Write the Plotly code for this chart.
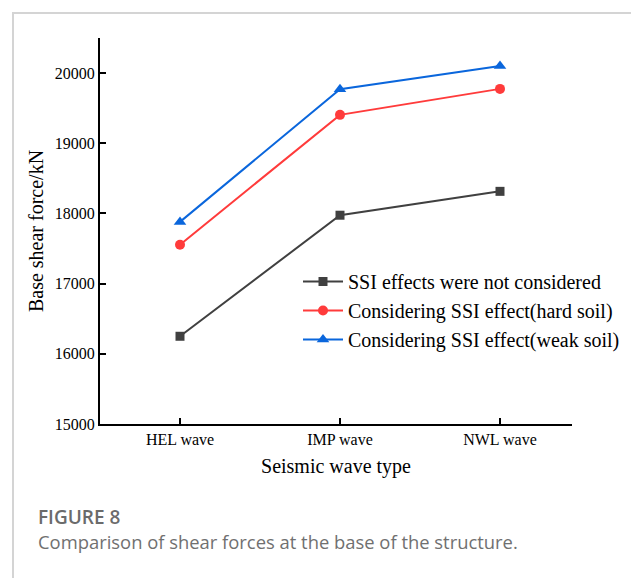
import plotly.graph_objects as go

waves = ["HEL wave", "IMP wave", "NWL wave"]
no_ssi = [16250, 17975, 18315]
hard_soil = [17555, 19405, 19775]
weak_soil = [17880, 19770, 20100]

y_ticks = [15000, 16000, 17000, 18000, 19000, 20000]

# page body adds an 8px margin top/left, so the figure is a bit smaller than the window
OFF = 8
W, H = 639 - OFF, 578 - OFF
L, R, T, B = 100 - OFF, 67, 38 - OFF, 154


def px_x(px):
    return (px - OFF - L) / (W - L - R)


def px_y(py):
    return (H - B - (py - OFF)) / (H - T - B)


fig = go.Figure()

series = [
    ("SSI effects were not considered", no_ssi, "#404040", "square", 9),
    ("Considering SSI effect(hard soil)", hard_soil, "#ff3b3b", "circle", 10),
    ("Considering SSI effect(weak soil)", weak_soil, "#0a66dc", "triangle-up", 11),
]
for name, vals, color, sym, size in series:
    fig.add_trace(go.Scatter(
        x=[0, 1, 2],
        y=vals,
        name=name,
        mode="lines+markers",
        line=dict(color=color, width=2),
        marker=dict(color=color, symbol=sym, size=size),
    ))

fig.update_xaxes(
    tickvals=[0, 1, 2],
    ticktext=waves,
    range=[-0.5, 2.45],
    showline=True,
    linewidth=2,
    linecolor="black",
    ticks="inside",
    ticklen=6,
    tickwidth=1.5,
    tickcolor="black",
    showgrid=False,
    zeroline=False,
    tickfont=dict(size=16, color="black"),
    title=dict(text="Seismic wave type", font=dict(size=20, color="black"), standoff=12),
)
fig.update_yaxes(
    tickvals=y_ticks,
    tickformat="d",
    range=[15000, 20500],
    showline=True,
    linewidth=2,
    linecolor="black",
    ticks="inside",
    ticklen=6,
    tickwidth=1.5,
    tickcolor="black",
    showgrid=False,
    zeroline=False,
    tickfont=dict(size=16, color="black"),
    title=dict(text="Base shear force/kN", font=dict(size=20, color="black"), standoff=6),
)

# light frame round the figure, only top and left show in the crop
fig.add_shape(
    type="rect", xref="paper", yref="paper",
    x0=px_x(13), x1=px_x(660), y0=px_y(600), y1=px_y(13),
    line=dict(color="#d4d4d4", width=2), fillcolor="rgba(0,0,0,0)",
    layer="below",
)

fig.add_annotation(
    text="FIGURE 8", xref="paper", yref="paper",
    x=px_x(36), y=px_y(517), xanchor="left", yanchor="middle",
    showarrow=False, font=dict(family="Open Sans", size=19, color="#6b6b6b", weight=600),
)
fig.add_annotation(
    text="Comparison of shear forces at the base of the structure.",
    xref="paper", yref="paper",
    x=px_x(36), y=px_y(541), xanchor="left", yanchor="middle",
    showarrow=False, font=dict(family="Open Sans", size=18.4, color="#707070"),
)

fig.update_layout(
    width=W,
    height=H,
    margin=dict(l=L, r=R, t=T, b=B),
    paper_bgcolor="white",
    plot_bgcolor="white",
    font=dict(family="Liberation Serif", color="black"),
    legend=dict(
        x=px_x(298), y=px_y(262), xanchor="left", yanchor="top",
        bgcolor="rgba(0,0,0,0)",
        font=dict(size=20, color="black"),
        tracegroupgap=0,
        itemwidth=40,
    ),
    showlegend=True,
)

fig.write_html("out.html")
